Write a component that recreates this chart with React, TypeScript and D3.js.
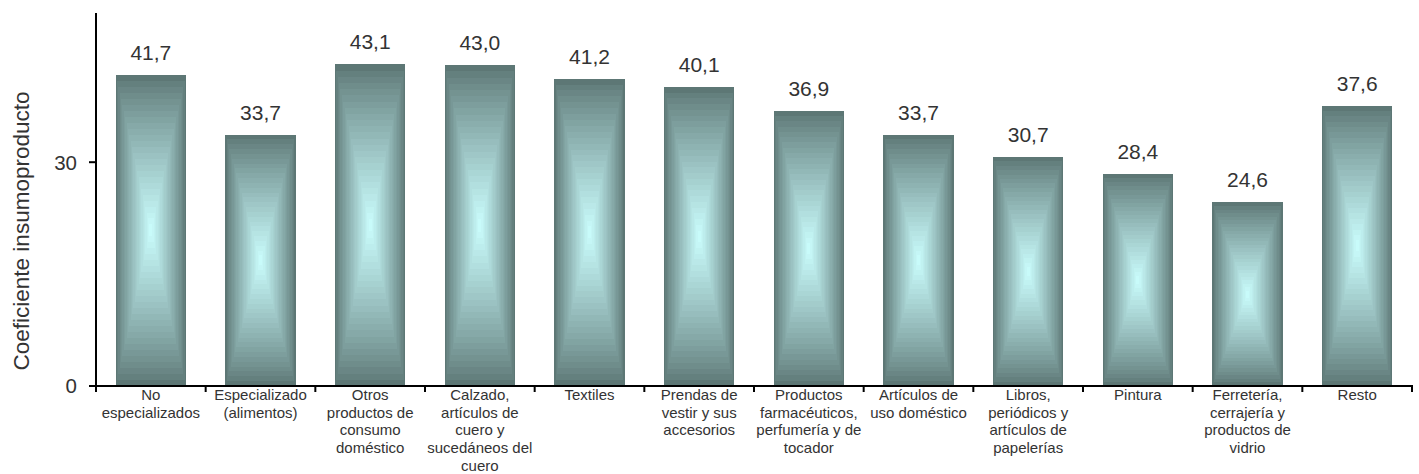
import React from "react";
import * as d3 from "d3";

const categories: string[][] = [
  ["No", "especializados"],
  ["Especializado", "(alimentos)"],
  ["Otros", "productos de", "consumo", "doméstico"],
  ["Calzado,", "artículos de", "cuero y", "sucedáneos del", "cuero"],
  ["Textiles"],
  ["Prendas de", "vestir y sus", "accesorios"],
  ["Productos", "farmacéuticos,", "perfumería y de", "tocador"],
  ["Artículos de", "uso doméstico"],
  ["Libros,", "periódicos y", "artículos de", "papelerías"],
  ["Pintura"],
  ["Ferretería,", "cerrajería y", "productos de", "vidrio"],
  ["Resto"],
];
const values: number[] = [41.7, 33.7, 43.1, 43.0, 41.2, 40.1, 36.9, 33.7, 30.7, 28.4, 24.6, 37.6];
const yTicks: number[] = [0, 30];
const yTitle = "Coeficiente insumoproducto";

const W = 1419;
const H = 474;
const left = 96;
const right = 1412;
const top = 13;
const bottom = 386;
const FONT = "'Liberation Sans', Arial, sans-serif";
const STEPS = 26;

export default function App() {
  const x = d3
    .scaleBand<number>()
    .domain(values.map((_, i) => i))
    .range([left, right])
    .paddingInner(0.36)
    .paddingOuter(0.18);
  const band = (right - left) / values.length;
  const y = d3.scaleLinear().domain([0, 50]).range([bottom, top]);
  const color = d3.interpolateRgb("#5d7775", "#ccffff");
  const fmt = (v: number) => v.toFixed(1).replace(".", ",");

  return (
    <div style={{ position: "fixed", left: 0, top: 0 }}>
      <svg width={W} height={H} style={{ display: "block" }}>
        <rect x={0} y={0} width={W} height={H} fill="#fff" />
        {values.map((v, i) => {
          const bx = x(i)!;
          const bw = x.bandwidth();
          const by = y(v);
          const bh = y(0) - by;
          const rects = d3.range(STEPS).map((s) => {
            const t = s / STEPS;
            const ix = (t * bw) / 2;
            const iy = (t * bh) / 2;
            return (
              <rect
                key={s}
                x={bx + ix}
                y={by + iy}
                width={Math.max(0, bw - 2 * ix)}
                height={Math.max(0, bh - 2 * iy)}
                fill={color(Math.pow(t, 0.85))}
                shapeRendering="crispEdges"
              />
            );
          });
          return (
            <g key={i}>
              {rects}
              <text
                x={bx + bw / 2}
                y={by - 15}
                textAnchor="middle"
                fontFamily={FONT}
                fontSize={21}
                fill="#333"
              >
                {fmt(v)}
              </text>
            </g>
          );
        })}
        <line x1={left} x2={left} y1={top} y2={bottom} stroke="#000" strokeWidth={2} />
        <line x1={left - 7} x2={right + 1} y1={bottom} y2={bottom} stroke="#000" strokeWidth={2} />
        {yTicks.map((t) => (
          <g key={t}>
            <line x1={left - 7} x2={left} y1={y(t)} y2={y(t)} stroke="#000" strokeWidth={2} />
            <text
              x={77}
              y={y(t)}
              dy="0.36em"
              textAnchor="end"
              fontFamily={FONT}
              fontSize={20.5}
              fill="#333"
            >
              {t}
            </text>
          </g>
        ))}
        {d3.range(values.length + 1).map((k) => (
          <line
            key={k}
            x1={left + k * band}
            x2={left + k * band}
            y1={bottom}
            y2={bottom + 6}
            stroke="#000"
            strokeWidth={2}
          />
        ))}
        {categories.map((lines, i) => (
          <text
            key={i}
            x={x(i)! + x.bandwidth() / 2}
            y={400}
            textAnchor="middle"
            fontFamily={FONT}
            fontSize={15}
            fill="#333"
          >
            {lines.map((l, j) => (
              <tspan key={j} x={x(i)! + x.bandwidth() / 2} y={400 + j * 17.7}>
                {l}
              </tspan>
            ))}
          </text>
        ))}
        <text
          transform={`translate(29, ${(86 + 376) / 2}) rotate(-90)`}
          textAnchor="middle"
          fontFamily={FONT}
          fontSize={22.5}
          fill="#333"
        >
          {yTitle}
        </text>
      </svg>
    </div>
  );
}
